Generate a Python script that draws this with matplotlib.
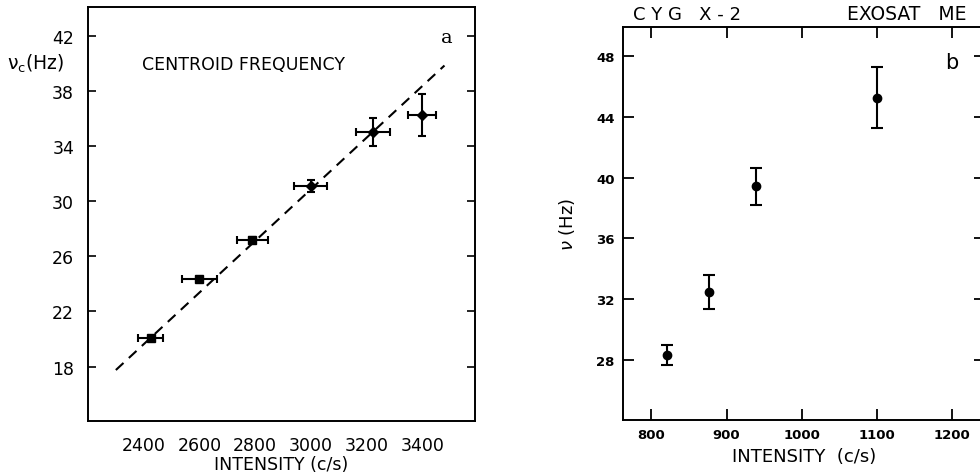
import numpy as np
import matplotlib
matplotlib.use('Agg')
import matplotlib.pyplot as plt

# ---------------------------------------------------------------- #
# data
# ---------------------------------------------------------------- #
# panel a: centroid frequency vs intensity
a_x = [2426, 2600, 2790, 2999, 3224, 3400]
a_y = [20.08, 24.36, 27.17, 31.1, 35.04, 36.25]
a_xerr = [45, 62, 55, 60, 60, 50]
a_yerr = [0.15, 0.15, 0.2, 0.43, 1.0, 1.55]
a_square = [True, True, True, False, False, False]
fit_x = [2300, 3480]
fit_y = [17.75, 39.85]
a_xticks = [2400, 2600, 2800, 3000, 3200, 3400]
a_yticks = [18, 22, 26, 30, 34, 38, 42]

# panel b: nu vs intensity
b_x = [820, 876, 939, 1100]
b_y = [28.33, 32.48, 39.43, 45.27]
b_yerr = [0.66, 1.12, 1.2, 2.0]
b_xticks = [800, 900, 1000, 1100, 1200]
b_yticks = [28, 32, 36, 40, 44, 48]

plt.rcParams['font.family'] = ['DejaVu Sans']
fig = plt.figure(figsize=(9.8, 4.77), dpi=100)

# ---------------------------------------------------------------- #
# panel a
# ---------------------------------------------------------------- #
ax = fig.add_axes([0.0898, 0.1153, 0.395, 0.868])
ax.plot(fit_x, fit_y, color='black', linestyle=(0, (5, 3.5)), linewidth=1.5)
for x, y, xe, ye, sq in zip(a_x, a_y, a_xerr, a_yerr, a_square):
    ax.errorbar(x, y, xerr=xe, yerr=ye, fmt='s' if sq else 'D', color='black',
                markersize=5.5 if sq else 5, capsize=3, elinewidth=1.5, capthick=1.5)
ax.set_xlim(2200, 3590)
ax.set_ylim(14.05, 44.1)
ax.set_xticks(a_xticks)
ax.set_yticks(a_yticks)
ax.tick_params(axis='y', direction='in', left=True, right=True, length=6, width=1.2,
               labelsize=12.5, pad=10)
ax.tick_params(axis='x', bottom=False, top=False, labelsize=12.5, pad=7)
for s in ax.spines.values():
    s.set_linewidth(1.4)
ax.set_xlabel('INTENSITY (c/s)', fontsize=12.5, labelpad=1)
fig.text(0.007, 0.867, r'$\mathregular{\nu_c}$(Hz)', fontsize=13.5, va='center')
ax.text(2395, 39.95, 'CENTROID FREQUENCY', fontsize=12.5, va='center')
ax.text(3490, 41.9, 'a', fontsize=14, ha='center', va='center', family='DejaVu Serif')

# ---------------------------------------------------------------- #
# panel b
# ---------------------------------------------------------------- #
bx = fig.add_axes([0.6357, 0.118, 0.369, 0.823])
bx.errorbar(b_x, b_y, yerr=b_yerr, fmt='o', color='black', markersize=6,
            capsize=4, elinewidth=1.5, capthick=1.5)
bx.set_xlim(762, 1244)
bx.set_ylim(24.05, 49.93)
bx.set_xticks(b_xticks)
bx.set_yticks(b_yticks)
bx.tick_params(direction='in', left=True, right=True, top=True, bottom=True,
               length=8, width=1.3, labelsize=9.5, pad=6)
for lab in bx.get_xticklabels() + bx.get_yticklabels():
    lab.set_fontweight('bold')
for s in bx.spines.values():
    s.set_linewidth(1.4)
bx.set_xlabel('INTENSITY  (c/s)', fontsize=13, labelpad=4)
bx.set_ylabel(r'$\nu$ (Hz)', fontsize=13, labelpad=14)
fig.text(0.646, 0.969, 'C Y G   X - 2', fontsize=13, va='center')
fig.text(0.864, 0.969, 'EXOSAT   ME', fontsize=13.5, va='center')
bx.text(1200, 47.6, 'b', fontsize=15, ha='center', va='center')

fig.savefig('out.png', dpi=100)
